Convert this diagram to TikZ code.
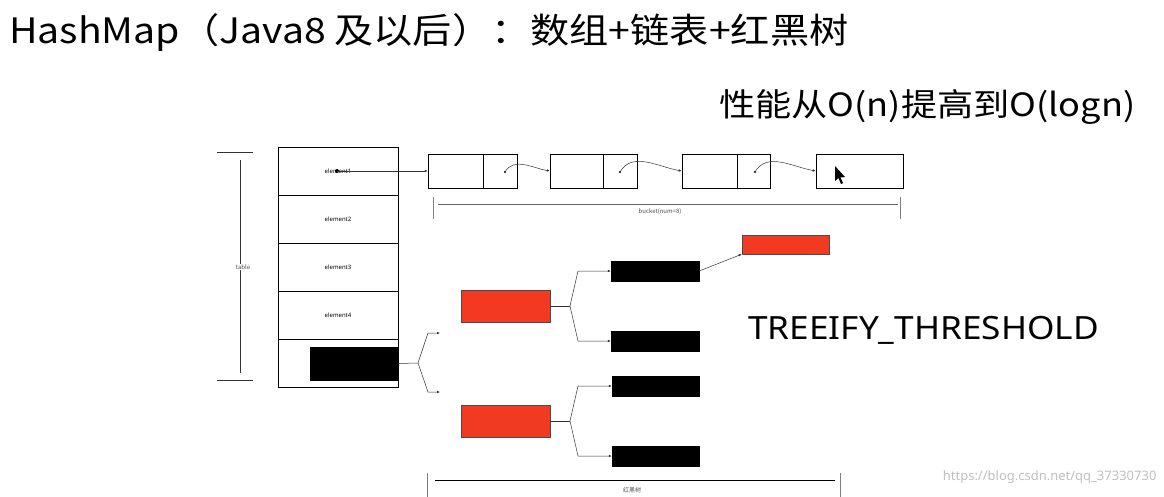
\documentclass[tikz,border=0pt]{standalone}
\usepackage{fontspec}
\setmainfont{Noto Sans}
\newfontfamily\cjk{Noto Sans CJK SC}
\usetikzlibrary{arrows.meta}
\definecolor{rb}{HTML}{F23A22}
\begin{document}
\begin{tikzpicture}[x=1pt,y=-1pt,
  cell/.style={draw,line width=0.6pt,minimum width=120pt,minimum height=48pt,inner sep=0,font=\fontsize{6}{7}\selectfont},
  half/.style={draw,line width=0.5pt,minimum height=34pt,inner sep=0},
  bk/.style={fill=black,draw=black,inner sep=0},
  rd/.style={fill=rb,draw=black!70,line width=0.4pt,inner sep=0},
  ln/.style={line width=0.5pt,draw=black!80},
  ar/.style={ln,-{Latex[length=3pt,width=2.5pt]}},
  tiny/.style={font=\cjk\fontsize{6}{7}\selectfont,text=black!70}]
\useasboundingbox (0,0) rectangle (1164,497);
\node[anchor=west,font=\cjk\fontsize{35}{38}\selectfont,xscale=1.12,inner sep=0] (title) at (9,33) {HashMap（Java8 及以后）：数组+链表+红黑树};
\node[anchor=west,font=\cjk\fontsize{32}{36}\selectfont,xscale=1.13,inner sep=0] (perf) at (719,107) {性能从O(n)提高到O(logn)};
% table
\node[cell] (e1) at (338,171) {element1};
\node[cell] (e2) at (338,219) {element2};
\node[cell] (e3) at (338,267) {element3};
\node[cell] (e4) at (338,315) {element4};
\node[cell] (e5) at (338,363) {};
\node[bk,minimum width=88pt,minimum height=33pt] (b0) at (354,363.5) {};
% table bracket
\coordinate (tt1) at (217,152); \coordinate (tt2) at (253,152);
\coordinate (tb1) at (217,380); \coordinate (tb2) at (253,380);
\draw[ln] (tt1)--(tt2); \draw[ln] (tb1)--(tb2);
\coordinate (tv1) at (240,160); \coordinate (tv2) at (240,373);
\draw[ln] (tv1)--(tv2);
\node[tiny,fill=white,inner sep=1pt] (tlab) at (243,267) {table};
% linked list
\node[half,minimum width=55pt] (l1a) at (455.5,171) {};
\node[half,minimum width=34pt] (l1b) at (500,171) {};
\node[half,minimum width=53pt] (l2a) at (576.5,171) {};
\node[half,minimum width=34pt] (l2b) at (620,171) {};
\node[half,minimum width=55pt] (l3a) at (709.5,171) {};
\node[half,minimum width=33pt] (l3b) at (753.5,171) {};
\node[half,minimum width=87pt] (l4) at (859.5,171) {};
\coordinate (d0) at (337,171);
\fill (d0) circle (2pt);
\draw[ar] (d0)--(l1a.west);
\coordinate (d1) at (505,172); \coordinate (d2) at (620,172); \coordinate (d3) at (755,172);
\foreach \d in {d1,d2,d3}{\fill (\d) circle (1.2pt);}
\draw[ar] (d1) to[out=60,in=170] (l2a.west);
\draw[ar] (d2) to[out=60,in=170] (l3a.west);
\draw[ar] (d3) to[out=60,in=170] (l4.west);
% cursor
\fill (835,166) -- (835,181) -- (838.5,178) -- (841,184) -- (843,183) -- (840.5,177.5) -- (845,177) -- cycle;
% bucket bracket
\coordinate (bl) at (438,204); \coordinate (br) at (898,204);
\draw[ln,draw=black!60] (bl)--(br);
\draw[ln,draw=black!50] (433,197)--(433,219);
\draw[ln,draw=black!50] (900,197)--(900,219);
\node[tiny] (blab) at (660,212) {bucket(num=8)};
% tree
\node[rd,minimum width=89pt,minimum height=32pt] (r1) at (505.5,306) {};
\node[bk,minimum width=88pt,minimum height=20pt] (ba) at (655,271) {};
\node[bk,minimum width=88pt,minimum height=20pt] (bb) at (655,341) {};
\node[rd,minimum width=87pt,minimum height=19pt] (rt) at (785.5,244.5) {};
\draw[ar] (ba.east)--(rt.south west);
\coordinate (f1) at (570,306);
\draw[ln] (r1.east)--(f1);
\draw[ar] (f1)--(578,271)--(ba.west);
\draw[ar] (f1)--(578,341)--(bb.west);
\node[rd,minimum width=89pt,minimum height=32pt] (r2) at (505.5,421) {};
\node[bk,minimum width=87pt,minimum height=20pt] (bc) at (655.5,386) {};
\node[bk,minimum width=87pt,minimum height=20pt] (bd) at (655.5,456) {};
\coordinate (f2) at (570,421);
\draw[ln] (r2.east)--(f2);
\draw[ar] (f2)--(578,386)--(bc.west);
\draw[ar] (f2)--(578,456)--(bd.west);
\coordinate (f0) at (418,363);
\coordinate (o1) at (440,333); \coordinate (o2) at (440,392);
\draw[ln] (b0.east)--(f0);
\draw[ar] (f0)--(428,333)--(o1);
\draw[ar] (f0)--(428,392)--(o2);
% rb bracket
\coordinate (rl) at (435,480); \coordinate (rr) at (835,480);
\draw[line width=0.8pt] (rl)--(rr);
\draw[ln,draw=black!50] (427,473)--(427,497);
\draw[ln,draw=black!50] (840,473)--(840,497);
\node[tiny] (rlab) at (632,490) {红黑树};
\node[anchor=west,font=\fontsize{32}{34}\selectfont,xscale=1.1,inner sep=0] (tre) at (748,330) {TREEIFY\_THRESHOLD};
\node[anchor=east,font=\fontsize{13}{15}\selectfont,text=black!25] (wm) at (1160,477) {https://blog.csdn.net/qq\_37330730};
\end{tikzpicture}
\end{document}
